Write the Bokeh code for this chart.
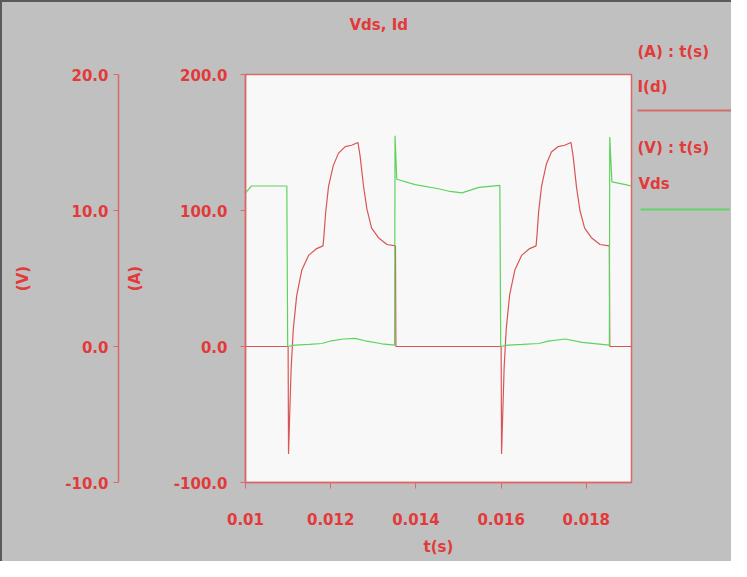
from bokeh.plotting import figure
from bokeh.layouts import row
from bokeh.models import (LinearAxis, Range1d, SingleIntervalTicker, FixedTicker,
                          NumeralTickFormatter, Label, BoxAnnotation, Title)
from bokeh.embed import file_html
from bokeh.resources import INLINE

# ---- data ----
t_id = [0.01000, 0.01100, 0.01101, 0.01107, 0.01112, 0.01120, 0.01132, 0.01148, 0.01167,
        0.01182, 0.01184, 0.01188, 0.01195, 0.01206, 0.01218, 0.01234, 0.01249, 0.01264,
        0.01269, 0.01277, 0.01285, 0.01296, 0.01312, 0.01332, 0.01352, 0.01353,
        0.01600, 0.01601, 0.01607, 0.01612, 0.01620, 0.01632, 0.01648, 0.01667,
        0.01682, 0.01684, 0.01688, 0.01695, 0.01706, 0.01718, 0.01734, 0.01749, 0.01764,
        0.01769, 0.01777, 0.01785, 0.01796, 0.01812, 0.01832, 0.01854, 0.01855, 0.01906]
id_vals = [0, 0, -79, -17, 12, 37, 56, 67, 72,
           74, 81, 98, 118, 133, 142, 147, 148, 150,
           140, 118, 101, 87, 80, 75, 74, 0,
           0, -79, -16, 13, 38, 56, 67, 72,
           74, 81, 99, 118, 134, 143, 147, 148, 150,
           140, 117, 100, 87, 80, 75, 74, 0, 0]

t_vds = [0.01000, 0.01014, 0.01045, 0.01097, 0.01099, 0.01116, 0.01150, 0.01179, 0.01202,
         0.01230, 0.01257, 0.01281, 0.01320, 0.01350, 0.01351, 0.01355, 0.01398, 0.01453,
         0.01480, 0.01508, 0.01548, 0.01597, 0.01599, 0.01616, 0.01650, 0.01689, 0.01710,
         0.01751, 0.01790, 0.01854, 0.01855, 0.01860, 0.01892, 0.01906]
vds_vals = [11.3, 11.8, 11.8, 11.8, 0.0, 0.1, 0.15, 0.22, 0.42,
            0.55, 0.6, 0.42, 0.2, 0.1, 15.5, 12.3, 11.9, 11.6,
            11.4, 11.3, 11.7, 11.85, 0.0, 0.1, 0.15, 0.22, 0.4,
            0.55, 0.3, 0.1, 15.4, 12.1, 11.9, 11.8]

title_text = "Vds, Id"
legend_a_title = "(A) : t(s)"
legend_a_name = "I(d)"
legend_v_title = "(V) : t(s)"
legend_v_name = "Vds"

FONT = "DejaVu Sans"
TXT = "#e23a3a"
AXC = "#d86a6a"
RED = "#d85555"
GREEN = "#5cd45c"
GRAY = "#c0c0c0"
EDGE = "2px solid #5a5a5a"

fig = figure(width=632, height=559, x_range=Range1d(0.01, 0.01906), y_range=Range1d(-100, 200),
             output_backend="svg", toolbar_location=None,
             min_border_left=243, min_border_top=72, min_border_right=3, min_border_bottom=79,
             background_fill_color="#f8f8f8", border_fill_color=GRAY,
             outline_line_color=AXC, outline_line_width=1.5)
fig.frame_align = False
fig.extra_y_ranges = {"v": Range1d(-10, 20)}
fig.xgrid.visible = False
fig.ygrid.visible = False

fig.title = Title(text=title_text, align="left", offset=104, standoff=10,
                  text_font=FONT, text_font_size="15px", text_font_style="bold",
                  text_color=TXT)


def style_axis(ax):
    ax.axis_line_color = AXC
    ax.axis_line_width = 1.5
    ax.major_tick_line_color = AXC
    ax.major_tick_in = 0
    ax.major_tick_out = 5
    ax.minor_tick_line_color = None
    ax.major_label_text_font = FONT
    ax.major_label_text_font_size = "15px"
    ax.major_label_text_font_style = "bold"
    ax.major_label_text_color = TXT
    ax.axis_label_text_font = FONT
    ax.axis_label_text_font_size = "15px"
    ax.axis_label_text_font_style = "bold"
    ax.axis_label_text_color = TXT


xa = fig.below[0]
style_axis(xa)
xa.ticker = SingleIntervalTicker(interval=0.002, num_minor_ticks=0)
xa.formatter = NumeralTickFormatter(format="0.[000]")
xa.axis_label = "t(s)"
xa.major_tick_out = 6
xa.major_label_standoff = 24
xa.axis_label_standoff = 10

ya = fig.left[0]
style_axis(ya)
ya.ticker = SingleIntervalTicker(interval=100, num_minor_ticks=0)
ya.formatter = NumeralTickFormatter(format="0.0")
ya.axis_label = "(A)"
ya.major_label_standoff = 13
ya.axis_label_standoff = 27


def spacer(standoff, **kw):
    return LinearAxis(ticker=FixedTicker(ticks=[]), axis_line_color=None,
                      major_tick_line_color=None, minor_tick_line_color=None,
                      major_tick_in=0, major_tick_out=0, major_label_text_font_size="0px",
                      axis_label=" ", axis_label_standoff=standoff,
                      axis_label_text_font_size="4px", axis_label_text_color=None, **kw)


# empty spacers: between frame and title, and between the two vertical axes
fig.add_layout(spacer(28), "above")
fig.add_layout(spacer(-4, y_range_name="v"), "left")

yv = LinearAxis(y_range_name="v")
style_axis(yv)
yv.ticker = SingleIntervalTicker(interval=10, num_minor_ticks=0)
yv.formatter = NumeralTickFormatter(format="0.0")
yv.axis_label = "(V)"
yv.major_label_standoff = 5
yv.axis_label_standoff = 30
fig.add_layout(yv, "left")

fig.line(t_id, id_vals, line_color=RED, line_width=1.2)
fig.line(t_vds, vds_vals, line_color=GREEN, line_width=1.2, y_range_name="v")

# ---- legend panel on the right ----
leg = figure(width=97, height=559, x_range=Range1d(0, 1), y_range=Range1d(0, 1),
             x_axis_location=None, y_axis_location=None, toolbar_location=None,
             output_backend="svg", min_border=0, outline_line_color=None,
             background_fill_color=GRAY, border_fill_color=GRAY)
leg.frame_align = False
leg.grid.visible = False


def lab(x, y, txt):
    leg.add_layout(Label(x=x, y=y, x_units="screen", y_units="screen", text=txt,
                         text_align="left", text_baseline="middle", text_font=FONT,
                         text_font_size="15px", text_font_style="bold", text_color=TXT))


lab(3, 510, legend_a_title)
lab(3, 475, legend_a_name)
lab(3, 414, legend_v_title)
lab(4, 378, legend_v_name)

leg.add_layout(BoxAnnotation(left=3, right=97, bottom=450, top=452,
                             left_units="screen", right_units="screen",
                             bottom_units="screen", top_units="screen",
                             fill_color=RED, fill_alpha=0.8, line_color=None))
leg.add_layout(BoxAnnotation(left=6, right=95, bottom=351, top=353,
                             left_units="screen", right_units="screen",
                             bottom_units="screen", top_units="screen",
                             fill_color=GREEN, fill_alpha=0.9, line_color=None))

p = row(fig, leg, styles={"border-top": EDGE, "border-left": EDGE, "background-color": GRAY})
open("out.html", "w").write(file_html(p, INLINE))
